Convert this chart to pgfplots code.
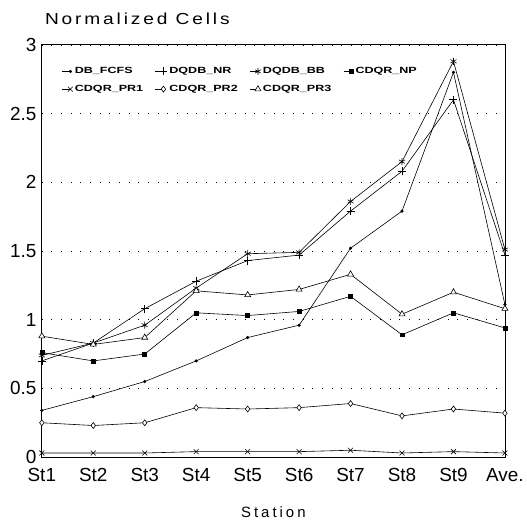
\documentclass[border=0pt]{standalone}
\usepackage{pgfplots}
\usepackage{pgfplotstable}
\usepackage{fontspec}
\pgfplotsset{compat=1.18}
\setmainfont{Liberation Sans}
\newfontfamily\widefont[LetterSpace=20]{Liberation Sans}
\newfontfamily\titlefont[LetterSpace=18, FakeStretch=1.2]{Liberation Sans}
\newfontfamily\legfont[FakeStretch=1.4]{Liberation Sans Bold}

% normalized cells per station, last row = average
\pgfplotstableread{
x  fcfs  nr    bb    np    pr1   pr2   pr3
0  0.34  0.70  0.74  0.76  0.03  0.25  0.88
1  0.44  0.83  0.83  0.70  0.03  0.23  0.82
2  0.55  1.08  0.96  0.75  0.03  0.25  0.87
3  0.70  1.28  1.23  1.05  0.04  0.36  1.21
4  0.87  1.43  1.48  1.03  0.04  0.35  1.18
5  0.96  1.47  1.49  1.06  0.04  0.36  1.22
6  1.52  1.79  1.86  1.17  0.05  0.39  1.33
7  1.79  2.08  2.15  0.89  0.03  0.30  1.04
8  2.80  2.60  2.88  1.05  0.04  0.35  1.20
9  1.11  1.47  1.51  0.94  0.03  0.32  1.08
}\cells

\begin{document}
\begin{tikzpicture}
\begin{axis}[
    scale only axis,
    width=465pt,
    height=414pt,
    xmin=0, xmax=9,
    ymin=0, ymax=3,
    xtick={0,...,9},
    xticklabels={St1,St2,St3,St4,St5,St6,St7,St8,St9,Ave.},
    ytick={0,0.5,1,1.5,2,2.5,3},
    yticklabels={0,0.5,1,1.5,2,2.5,3},
    /pgf/number format/assume math mode=true,
    tick label style={font=\fontsize{19}{19}\selectfont},
    x tick label style={yshift=-8pt},
    y tick label style={xshift=-2pt},
    major tick length=0pt,
    ymajorgrids,
    major grid style={black, line width=0.6pt, dash pattern=on 0.7pt off 9pt},
    axis line style={line width=0.7pt},
    title={\titlefont\fontsize{16}{16}\selectfont Normalized Cells},
    title style={at={(axis description cs:0,1)}, anchor=base west, inner sep=0pt, xshift=3pt, yshift=14pt},
    xlabel={\widefont\fontsize{15}{15}\selectfont Station},
    xlabel style={at={(axis description cs:0.5,0)}, anchor=base, inner sep=0pt, yshift=-61pt},
    legend columns=4,
    legend cell align=left,
    legend style={draw=none, fill=none, font=\legfont\fontsize{9}{9}\selectfont,
        at={(axis description cs:0.037,0.955)}, anchor=north west,
        row sep=6pt, /tikz/every even column/.append style={column sep=10pt}},
    legend image code/.code={
        \draw[mark repeat=2, mark phase=2] plot coordinates {(0pt,0pt) (8pt,0pt)};
    },
    every axis plot/.append style={black, line width=0.6pt, mark options={solid, line width=0.6pt}},
]
\addplot[mark=*, mark size=1.3pt] table[x=x, y=fcfs] {\cells};
\addlegendentry{DB\_FCFS}
\addplot[mark=+, mark size=4pt] table[x=x, y=nr] {\cells};
\addlegendentry{DQDB\_NR}
\addplot[mark=asterisk, mark size=3.5pt] table[x=x, y=bb] {\cells};
\addlegendentry{DQDB\_BB}
\addplot[mark=square*, mark size=2pt] table[x=x, y=np] {\cells};
\addlegendentry{CDQR\_NP}
\addplot[mark=x, mark size=3.5pt] table[x=x, y=pr1] {\cells};
\addlegendentry{CDQR\_PR1}
\addplot[mark=diamond*, mark size=3pt, mark options={fill=white}] table[x=x, y=pr2] {\cells};
\addlegendentry{CDQR\_PR2}
\addplot[mark=triangle*, mark size=3.5pt, mark options={fill=white}] table[x=x, y=pr3] {\cells};
\addlegendentry{CDQR\_PR3}
\coordinate (ll) at (rel axis cs:0,0);
\coordinate (ur) at (rel axis cs:1,1);
\end{axis}
\path ([shift={(-42pt,-66pt)}]ll) rectangle ([shift={(20pt,45pt)}]ur);
\end{tikzpicture}
\end{document}
